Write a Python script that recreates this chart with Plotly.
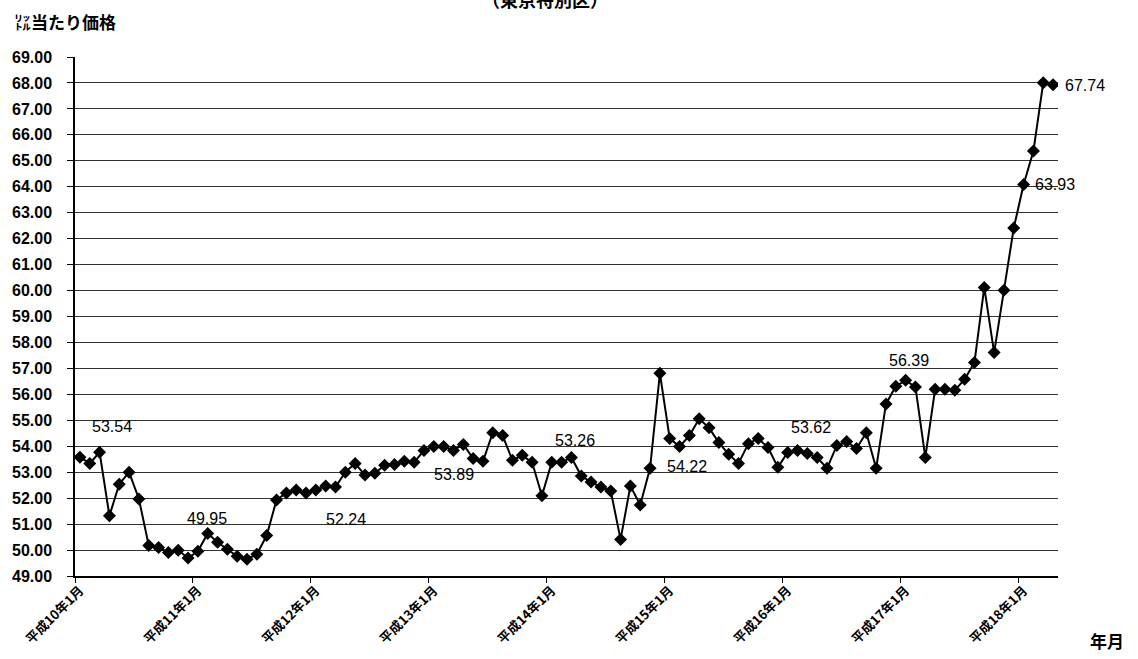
import plotly.graph_objects as go

# ---- data ----
year_labels = ["平成10年1月", "平成11年1月", "平成12年1月", "平成13年1月", "平成14年1月",
               "平成15年1月", "平成16年1月", "平成17年1月", "平成18年1月"]

prices = [
    53.58, 53.34, 53.77, 51.32, 52.54, 53.00, 51.97, 50.18, 50.10, 49.91, 49.99, 49.69,
    49.95, 50.64, 50.30, 50.03, 49.76, 49.65, 49.84, 50.56, 51.93, 52.20, 52.31, 52.20,
    52.31, 52.47, 52.43, 53.00, 53.34, 52.89, 52.96, 53.27, 53.30, 53.42, 53.38, 53.84,
    53.99, 53.99, 53.84, 54.07, 53.53, 53.42, 54.52, 54.41, 53.46, 53.65, 53.38, 52.09,
    53.38, 53.38, 53.57, 52.85, 52.62, 52.43, 52.28, 50.41, 52.47, 51.74, 53.15, 56.81,
    54.30, 53.99, 54.41, 55.06, 54.71, 54.14, 53.69, 53.34, 54.10, 54.30, 53.95, 53.19,
    53.76, 53.84, 53.72, 53.57, 53.15, 54.03, 54.18, 53.91, 54.52, 53.15, 55.63, 56.31,
    56.54, 56.28, 53.57, 56.20, 56.20, 56.16, 56.58, 57.23, 60.12, 57.61, 60.01, 62.41,
    64.09, 65.38, 68.01, 67.93,
]

label_texts = ["53.54", "49.95", "52.24", "53.89", "53.26", "54.22", "53.62", "56.39", "63.93", "67.74"]
label_x = [3.25, 12.89, 27.11, 38.07, 50.36, 61.73, 74.42, 84.37, 99.19, 99.0]
label_y = [54.75, 51.21, 51.17, 52.92, 54.22, 53.23, 54.71, 57.30, 64.09, 67.90]
label_shift = [0] * 9 + [32]

month_index = list(range(len(prices)))
tick_positions = [12 * i for i in range(len(year_labels))]

fig = go.Figure()
fig.add_trace(go.Scatter(
    x=month_index, y=prices, mode="lines+markers",
    line=dict(color="black", width=2),
    marker=dict(symbol="diamond", size=10, color="black"),
    showlegend=False, hoverinfo="skip",
))

for t, xv, yv, sh in zip(label_texts, label_x, label_y, label_shift):
    fig.add_annotation(x=xv, y=yv, xref="x", yref="y", text=t, showarrow=False,
                       xanchor="center", yanchor="middle", xshift=sh,
                       font=dict(family="Liberation Sans, Arial", size=16, color="black"))

fig.add_annotation(xref="paper", yref="paper", x=0.478, y=1.082, xanchor="center", yanchor="bottom",
                   text="<b>（東京特別区）</b>", showarrow=False,
                   font=dict(family="Noto Sans CJK JP", size=18, color="black"))
fig.add_annotation(xref="paper", yref="paper", x=-0.0640, y=1.069, xanchor="left", yanchor="middle",
                   text="<b>㍑当たり価格</b>", showarrow=False,
                   font=dict(family="Noto Sans CJK JP", size=17, color="black"))
fig.add_annotation(xref="paper", yref="paper", x=1.050, y=-0.125, xanchor="center", yanchor="middle",
                   text="<b>年月</b>", showarrow=False,
                   font=dict(family="Noto Sans CJK JP", size=17, color="black"))

fig.update_layout(
    width=1138, height=659,
    margin=dict(l=73, r=80, t=57, b=77),
    paper_bgcolor="white", plot_bgcolor="white",
    xaxis=dict(
        range=[-0.5, 99.5], tickmode="array", tickvals=tick_positions, ticktext=year_labels,
        tickangle=-45, ticks="", showgrid=False, zeroline=False,
        showline=True, linecolor="black", linewidth=1.5,
        tickfont=dict(family="Noto Sans CJK JP", size=13, color="black", weight="bold"),
        minor=dict(tick0=-0.5, dtick=12, ticks="outside", ticklen=5, tickcolor="black", showgrid=False),
    ),
    yaxis=dict(
        range=[49, 69], dtick=1, tickformat=".2f",
        ticks="outside", ticklen=6, tickcolor="black",
        showgrid=True, gridcolor="#333333", gridwidth=1,
        zeroline=False, showline=True, linecolor="black", linewidth=1.5,
        ticklabelstandoff=12,
        tickfont=dict(family="Liberation Sans, Arial", size=16, color="black", weight="bold"),
    ),
)

fig.write_html("out.html", config={"displayModeBar": False},
               post_script="document.body.style.margin='0';")
